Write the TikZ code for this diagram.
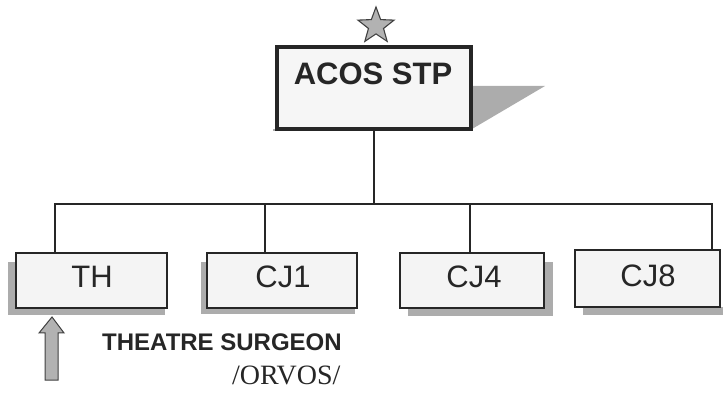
\documentclass[tikz,border=0pt]{standalone}
\usepackage{fontspec}
\setmainfont{Liberation Sans}
\newfontfamily\serifface{Liberation Serif}
\usetikzlibrary{shapes.geometric}
\begin{document}
\begin{tikzpicture}[x=1pt,y=-1pt,
  box/.style={draw=black!85, fill=gray!9, line width=1.4pt, inner sep=0pt},
  topbox/.style={draw=black!85, fill=gray!7, line width=3.2pt, inner sep=0pt},
  shade/.style={fill=gray!65},
  wire/.style={draw=black!85, line width=2.8pt},
  lbl/.style={font=\fontsize{31}{31}\selectfont, text=black!85},
]
\useasboundingbox (0,0) rectangle (723,403);
% star
\node[star, star points=5, star point ratio=2.4, minimum size=38pt, inner sep=0pt,
      fill=gray!60, draw=black!75, line width=1.1pt] (starnode) at (376,26) {};
% top box with shadow
\fill[shade] (472,86) -- (545,86) -- (472,129) -- cycle;
\fill[shade] (273,129) rectangle (472,131.5);
\node[topbox, minimum width=194pt, minimum height=82pt] (top) at (374,88) {};
\node[lbl, font=\fontsize{31}{31}\selectfont\bfseries, anchor=base] (toplbl) at (373,85) {ACOS STP};
% bottom box shadows
\fill[shade] (8,262) rectangle (16,315);
\fill[shade] (8,308) rectangle (165,315);
\fill[shade] (201,262) rectangle (207,314);
\fill[shade] (201,308) rectangle (355,314);
\fill[shade] (544,262) rectangle (553,316);
\fill[shade] (408,308) rectangle (553,316);
\fill[shade] (583,307) rectangle (723,315);
% bottom boxes
\node[box, minimum width=151pt, minimum height=55pt] (th)  at (91.5,280.5) {};
\node[box, minimum width=150pt, minimum height=55pt] (cj1) at (282,280.5) {};
\node[box, minimum width=144pt, minimum height=55pt] (cj4) at (472,280.5) {};
\node[box, minimum width=145pt, minimum height=57pt] (cj8) at (647.5,278.5) {};
\node[lbl, anchor=base] (thl)  at (92,288) {TH};
\node[lbl, anchor=base] (cj1l) at (283,288) {CJ1};
\node[lbl, anchor=base] (cj4l) at (474,288) {CJ4};
\node[lbl, anchor=base] (cj8l) at (648,287) {CJ8};
% connectors
\coordinate (dth) at (55,204);
\coordinate (dcj1) at (265,204);
\coordinate (dcj4) at (470,204);
\coordinate (dcj8) at (712,204);
\draw[wire] (top.south) -- (top.south |- dth);
\draw[wire] (dth |- th.north) -- (dth) -- (dcj8) -- (dcj8 |- cj8.north);
\draw[wire] (dcj1) -- (dcj1 |- cj1.north);
\draw[wire] (dcj4) -- (dcj4 |- cj4.north);
% arrow
\filldraw[fill=gray!60, draw=black!75, line width=1pt]
  (52,317) -- (64,333) -- (58,333) -- (58,380) -- (45,380) -- (45,333) -- (39,333) -- cycle;
% texts
\node[font=\fontsize{24}{24}\selectfont\bfseries, text=black!85, anchor=base west, inner sep=0pt] (ts) at (102,351) {THEATRE SURGEON};
\node[font=\fontsize{28}{28}\selectfont\serifface, text=black!85, anchor=base west, inner sep=0pt] (orv) at (232,384) {/ORVOS/};
\end{tikzpicture}
\end{document}
